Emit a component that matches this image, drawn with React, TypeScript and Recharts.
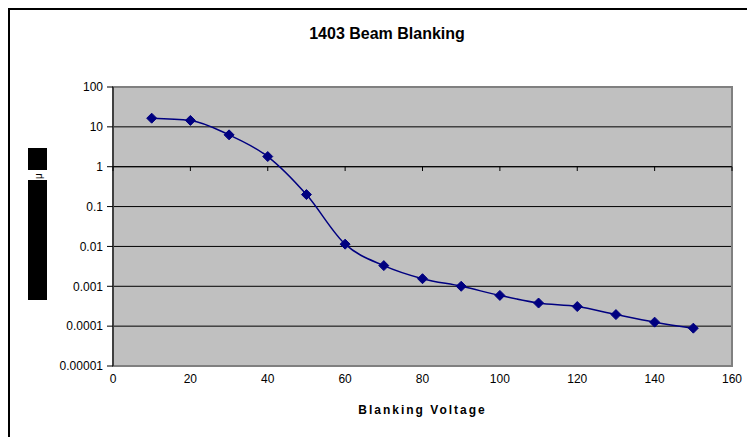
import React from 'react';
import { ComposedChart, Line, XAxis, YAxis, CartesianGrid, ReferenceLine, ReferenceArea } from 'recharts';

const voltages = [10, 20, 30, 40, 50, 60, 70, 80, 90, 100, 110, 120, 130, 140, 150];
const ratios = [16.5, 14.5, 6.3, 1.8, 0.2, 0.0114, 0.0033, 0.00155, 0.001, 0.00059, 0.00038, 0.00031, 0.000195, 0.000126, 0.000089];
const xTicks = [0, 20, 40, 60, 80, 100, 120, 140, 160];
const yTicks = [0.00001, 0.0001, 0.001, 0.01, 0.1, 1, 10, 100];
const chartTitle = '1403 Beam Blanking';
const xTitle = 'Blanking Voltage';
const yTitleGlyph = 'μ';

const data = voltages.map((v, i) => ({ v, r: ratios[i] }));

const FONT = '"Liberation Sans", Arial, sans-serif';
const NAVY = '#000080';

const Diamond = (p: any) => {
  const { cx, cy, index } = p;
  if (cx == null || cy == null) return <g key={index} />;
  const s = 5;
  return (
    <polygon
      key={index}
      points={`${cx},${cy - s} ${cx + s},${cy} ${cx},${cy + s} ${cx - s},${cy}`}
      fill={NAVY}
      stroke={NAVY}
      strokeWidth={1}
    />
  );
};

const YTitle = (props: any) => {
  const vb = props.viewBox || { x: 0, y: 0 };
  const x0 = vb.x + 18;
  const y0 = vb.y;
  return (
    <g>
      <rect x={x0} y={y0 + 61} width={19} height={22} fill="#000" />
      <text
        x={x0 + 10}
        y={y0 + 89}
        fontSize={10}
        fontFamily={FONT}
        fill="#000"
        textAnchor="middle"
        dominantBaseline="central"
        transform={`rotate(-90 ${x0 + 10} ${y0 + 89})`}
      >
        {yTitleGlyph}
      </text>
      <rect x={x0} y={y0 + 93} width={19} height={120} fill="#000" />
    </g>
  );
};

const XTitle = (props: any) => {
  const vb = props.viewBox || { x: 0, y: 0, width: 0 };
  return (
    <text
      x={vb.x + vb.width / 2}
      y={vb.y + 48}
      textAnchor="middle"
      fontSize={12}
      fontWeight="bold"
      letterSpacing={2}
      fontFamily={FONT}
      fill="#000"
    >
      {xTitle}
    </text>
  );
};

const fmt = (v: number) => String(v);

export default function App() {
  return (
    <div
      style={{
        position: 'fixed',
        left: 8,
        top: 8,
        width: 739,
        height: 429,
        boxSizing: 'border-box',
        borderTop: '2px solid #000',
        borderLeft: '2px solid #000',
        fontFamily: FONT,
        overflow: 'hidden',
        background: '#fff',
      }}
    >
      <div
        style={{
          position: 'absolute',
          left: 377,
          top: 15,
          transform: 'translateX(-50%)',
          fontSize: 16,
          fontWeight: 'bold',
          whiteSpace: 'nowrap',
          fontFamily: FONT,
          lineHeight: '18px',
        }}
      >
        {chartTitle}
      </div>
      <ComposedChart
        width={737}
        height={427}
        data={data}
        margin={{ top: 77, right: 15, bottom: 0, left: 0 }}
      >
        <CartesianGrid vertical={false} stroke="#000" strokeWidth={1} fill="#C0C0C0" fillOpacity={1} />
        <ReferenceArea
          x1={0}
          x2={160}
          y1={0.00001}
          y2={100}
          fill="none"
          stroke="#808080"
          strokeWidth={2}
          fillOpacity={0}
          ifOverflow="visible"
        />
        <XAxis
          dataKey="v"
          type="number"
          domain={[0, 160]}
          ticks={xTicks}
          interval={0}
          height={71}
          axisLine={false}
          tickLine={false}
          tickSize={6}
          tickMargin={2}
          tick={{ fill: '#000', fontSize: 12, fontFamily: FONT }}
          label={<XTitle />}
        />
        <YAxis
          type="number"
          scale="log"
          domain={[0.00001, 100]}
          allowDataOverflow
          ticks={yTicks}
          interval={0}
          width={103}
          tickFormatter={fmt}
          axisLine={{ stroke: '#000', strokeWidth: 1 }}
          tickLine={{ stroke: '#000' }}
          tickSize={6}
          tickMargin={4}
          tick={{ fill: '#000', fontSize: 12, fontFamily: FONT }}
          label={<YTitle />}
        />
        <ReferenceLine y={1} stroke="#000" strokeWidth={1} />
        {xTicks.map((t) => (
          <ReferenceLine
            key={t}
            segment={[{ x: t, y: 1 }, { x: t, y: 0.78 }]}
            stroke="#000"
            strokeWidth={1}
            ifOverflow="visible"
          />
        ))}
        <Line
          dataKey="r"
          type="monotone"
          stroke={NAVY}
          strokeWidth={1.5}
          dot={Diamond}
          activeDot={false}
          isAnimationActive={false}
        />
      </ComposedChart>
    </div>
  );
}
